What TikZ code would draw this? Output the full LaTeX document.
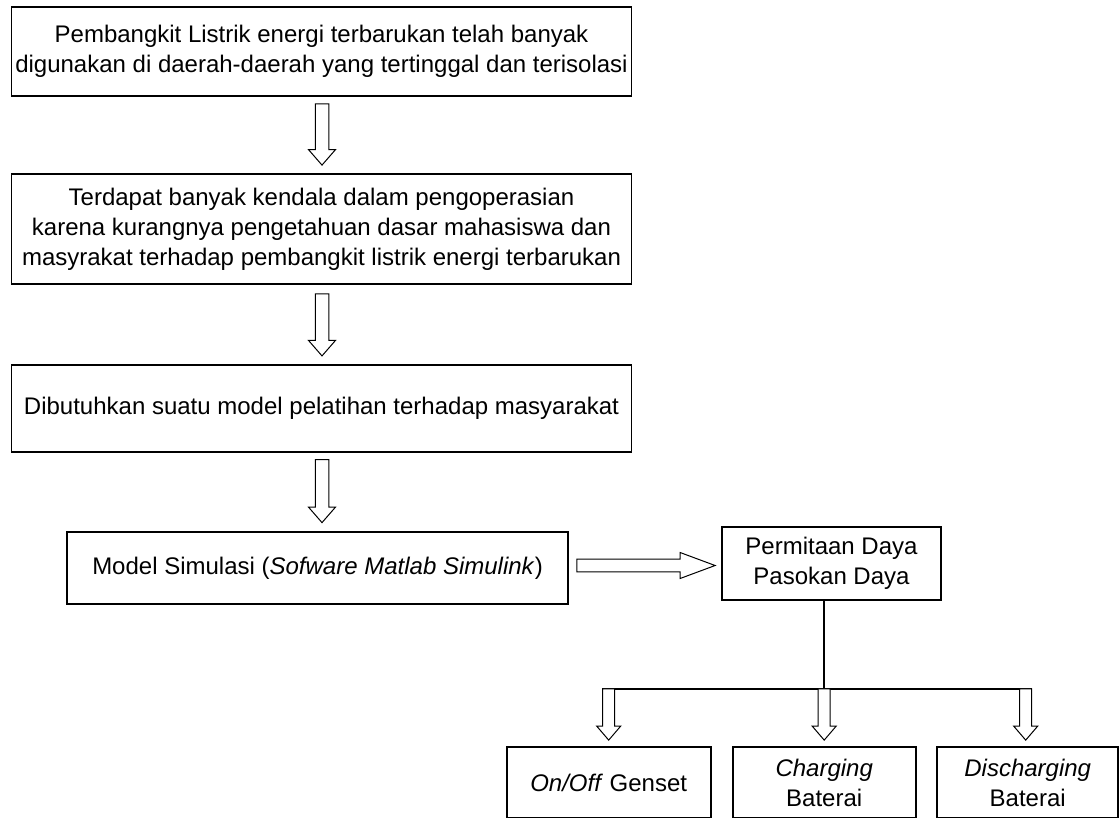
\documentclass[tikz,border=0pt]{standalone}
\usepackage{fontspec}
\setmainfont{Liberation Sans}
\usetikzlibrary{calc}

% hollow block arrow pointing down: start, tip, half stem, half head, head length
\newcommand\downblock[5]{%
  \draw[blockarrow] let \p1=#1, \p2=#2 in
    (\x1-#3,\y1) -- (\x1+#3,\y1) -- (\x1+#3,\y2+#5) -- (\x1+#4,\y2+#5)
    -- (\x1,\y2) -- (\x1-#4,\y2+#5) -- (\x1-#3,\y2+#5) -- cycle;}
% hollow block arrow pointing right: start, tip, half stem, half head, head length
\newcommand\rightblock[5]{%
  \draw[blockarrow] let \p1=#1, \p2=#2 in
    (\x1,\y1+#3) -- (\x2-#5,\y1+#3) -- (\x2-#5,\y1+#4) -- (\x2,\y1)
    -- (\x2-#5,\y1-#4) -- (\x2-#5,\y1-#3) -- (\x1,\y1-#3) -- cycle;}

\begin{document}
\begin{tikzpicture}[x=1pt,y=-1pt,
  box/.style={draw, line width=1.8pt, inner sep=0pt, align=center,
              font=\fontsize{24pt}{30pt}\selectfont},
  blockarrow/.style={draw, line width=1pt, fill=white, line join=miter},
  conn/.style={draw, line width=1.8pt}]
\clip (0,0) rectangle (1119,817);
\fill[white] (0,0) rectangle (1119,817);

% main column
\node[box, minimum width=620pt, minimum height=89pt] (b1) at (321.5,51.5)
  {Pembangkit Listrik energi terbarukan telah banyak\\digunakan di daerah-daerah yang tertinggal dan terisolasi};
\node[box, minimum width=620pt, minimum height=110pt] (b2) at (321.5,229)
  {Terdapat banyak kendala dalam pengoperasian\\karena kurangnya pengetahuan dasar mahasiswa dan\\masyrakat terhadap pembangkit listrik energi terbarukan};
\node[box, minimum width=620pt, minimum height=87pt] (b3) at (321.5,408.3)
  {Dibutuhkan suatu model pelatihan terhadap masyarakat};
\node[box, minimum width=501pt, minimum height=72pt] (b4) at (317.5,568)
  {Model Simulasi (\textit{Sofware Matlab Simulink})};
\node[box, minimum width=219pt, minimum height=73pt] (b5) at (831.5,563.5)
  {Permitaan Daya\\Pasokan Daya};

% outputs
\node[box, minimum width=204pt, minimum height=71.6pt] (b6) at (608.7,782.5)
  {\textit{On/Off} Genset};
\node[box, minimum width=183pt, minimum height=71.6pt] (b7) at (824.2,782.5)
  {\textit{Charging}\\Baterai};
\node[box, minimum width=181pt, minimum height=71.6pt] (b8) at (1027.7,782.5)
  {\textit{Discharging}\\Baterai};

% arrows of the main column
\downblock{($(b1.south)+(0.5,7)$)}{($(b2.north)+(0.5,-8)$)}{6.75pt}{13.5pt}{15.5pt}
\downblock{($(b2.south)+(0.5,9)$)}{($(b3.north)+(0.5,-8)$)}{6.75pt}{13.5pt}{15.5pt}
\downblock{($(b3.south)+(0.5,7)$)}{($(b4.north)+(4.5,-8.5)$)}{6.75pt}{13.5pt}{15.5pt}
\rightblock{($(b4.east)+(8,-2.5)$)}{($(b5.west)+(-6,2)$)}{6.35pt}{13pt}{35pt}

% branching to the outputs
\coordinate (junction) at ($(b5.south -| b7.north)+(0,88)$);
\draw[conn] (b5.south -| b7.north) -- (junction);
\draw[conn] ($(junction -| b6.north)+(-6.5,0)$) -- ($(junction -| b8.north)+(4.5,0)$);
\downblock{(junction -| b6.north)}{($(b6.north)+(0,-5.7)$)}{6pt}{12pt}{14pt}
\downblock{(junction -| b7.north)}{($(b7.north)+(0,-5.7)$)}{6pt}{12pt}{14pt}
\downblock{($(junction -| b8.north)+(-2,0)$)}{($(b8.north)+(-2,-5.7)$)}{6pt}{12pt}{14pt}
\end{tikzpicture}
\end{document}
